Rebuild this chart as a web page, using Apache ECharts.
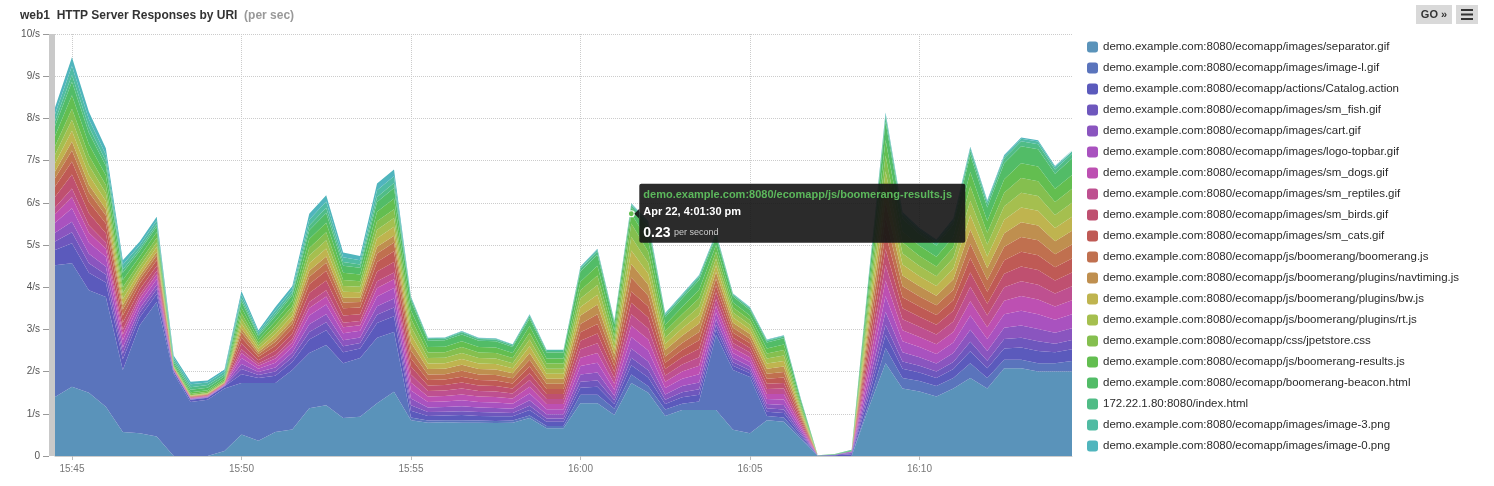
<!DOCTYPE html>
<html><head><meta charset="utf-8">
<script src="https://cdn.jsdelivr.net/npm/echarts@6/dist/echarts.min.js"></script>
<style>html,body{margin:0;padding:0;background:#fff;}#c{width:1494px;height:486px;}</style>
</head><body><div id="c"></div>
<script>
const times = ["15:44:30","15:45:00","15:45:30","15:46:00","15:46:30","15:47:00","15:47:30","15:48:00","15:48:30","15:49:00",
"15:49:30","15:50:00","15:50:30","15:51:00","15:51:30","15:52:00","15:52:30","15:53:00","15:53:30","15:54:00",
"15:54:30","15:55:00","15:55:30","15:56:00","15:56:30","15:57:00","15:57:30","15:58:00","15:58:30","15:59:00",
"15:59:30","16:00:00","16:00:30","16:01:00","16:01:30","16:02:00","16:02:30","16:03:00","16:03:30","16:04:00",
"16:04:30","16:05:00","16:05:30","16:06:00","16:06:30","16:07:00","16:07:30","16:08:00","16:08:30","16:09:00",
"16:09:30","16:10:00","16:10:30","16:11:00","16:11:30","16:12:00","16:12:30","16:13:00","16:13:30","16:14:00",
"16:14:30"];

const seriesNames = [
"demo.example.com:8080/ecomapp/images/separator.gif",
"demo.example.com:8080/ecomapp/images/image-l.gif",
"demo.example.com:8080/ecomapp/actions/Catalog.action",
"demo.example.com:8080/ecomapp/images/sm_fish.gif",
"demo.example.com:8080/ecomapp/images/cart.gif",
"demo.example.com:8080/ecomapp/images/logo-topbar.gif",
"demo.example.com:8080/ecomapp/images/sm_dogs.gif",
"demo.example.com:8080/ecomapp/images/sm_reptiles.gif",
"demo.example.com:8080/ecomapp/images/sm_birds.gif",
"demo.example.com:8080/ecomapp/images/sm_cats.gif",
"demo.example.com:8080/ecomapp/js/boomerang/boomerang.js",
"demo.example.com:8080/ecomapp/js/boomerang/plugins/navtiming.js",
"demo.example.com:8080/ecomapp/js/boomerang/plugins/bw.js",
"demo.example.com:8080/ecomapp/js/boomerang/plugins/rt.js",
"demo.example.com:8080/ecomapp/css/jpetstore.css",
"demo.example.com:8080/ecomapp/js/boomerang-results.js",
"demo.example.com:8080/ecomapp/boomerang-beacon.html",
"172.22.1.80:8080/index.html",
"demo.example.com:8080/ecomapp/images/image-3.png",
"demo.example.com:8080/ecomapp/images/image-0.png"];

const colors = ["#5a93ba","#5a74bc","#5b5abc","#6e57bd","#8a55bf","#a952bf","#bd50b2","#be5090","#bf5070","#bf5a55",
"#c0704f","#bf8f4f","#bfb44f","#a5bf4f","#85bf4f","#63be50","#52bc67","#50bc86","#50bba3","#50b5bd"];

const separatorGif = [1.4,1.64,1.5,1.17,0.57,0.54,0.46,0,0,0,0.12,0.51,0.36,0.57,0.63,1.13,1.2,0.9,0.93,1.25,1.52,0.85,0.79,0.8,0.79,0.79,0.78,0.79,0.9,0.66,0.66,1.25,1.25,0.97,1.73,1.5,0.95,1.09,1.09,1.09,0.62,0.54,0.85,0.81,0.4,0,0,0,1.13,2.2,1.6,1.53,1.41,1.6,1.85,1.6,2.08,2.08,2.0,2.0,2.0];
const imageL = [3.12,2.93,2.43,2.6,1.47,2.56,3.19,1.96,1.28,1.33,1.48,1.22,1.37,1.16,1.41,1.31,1.43,1.3,1.39,1.55,1.42,0.06,0.05,0.05,0.06,0.05,0.05,0.05,0.06,0.05,0.05,0.2,0.2,0.15,0.2,0.15,0.15,0.15,0.2,1.78,1.42,1.33,0.1,0.1,0.05,0,0,0,0.1,0.36,0.25,0.25,0.25,0.25,0.35,0.25,0.2,0.2,0.2,0.2,0.25];
const catalogAction = [.36,.47,.41,.34,.25,.19,.19,.05,.05,.05,.05,.21,.12,.17,.19,.32,.35,.26,.23,.35,.37,.16,.11,.11,.12,.11,.11,.10,.13,.10,.10,.17,.19,.11,.22,.21,.13,.15,.16,.13,.10,.09,.10,.11,.05,.01,.02,.04,.17,.31,.22,.20,.19,.21,.28,.23,.27,.29,.29,.26,.28];
const smFish = [.20,.26,.23,.19,.14,.11,.11,.01,.01,.01,.01,.12,.07,.10,.11,.18,.19,.14,.13,.20,.21,.13,.09,.09,.09,.09,.09,.08,.10,.08,.08,.14,.15,.09,.18,.17,.10,.12,.13,.11,.08,.07,.08,.08,.04,0,.01,.03,.13,.24,.17,.16,.15,.17,.23,.18,.22,.23,.23,.20,.22];
const cartGif = [.21,.25,.22,.19,.14,.10,.11,.01,.01,.01,.01,.12,.07,.10,.11,.18,.19,.14,.13,.20,.21,.16,.11,.11,.12,.11,.11,.10,.13,.10,.10,.17,.19,.11,.22,.21,.13,.15,.16,.13,.10,.09,.10,.11,.05,0,0,.02,.17,.31,.22,.20,.19,.21,.28,.23,.27,.29,.29,.26,.28];
const logoTopbar = [.24,.32,.27,.23,.17,.13,.13,.01,.01,.01,.01,.14,.08,.11,.13,.21,.23,.17,.16,.23,.25,.19,.13,.13,.14,.13,.13,.12,.16,.12,.12,.20,.23,.14,.27,.26,.15,.17,.20,.16,.12,.11,.12,.13,.06,0,0,.02,.20,.37,.26,.24,.23,.25,.34,.28,.32,.35,.35,.31,.33];
const smDogs = [.20,.26,.23,.19,.14,.11,.11,.01,.01,.01,.01,.12,.07,.10,.11,.18,.19,.14,.13,.20,.21,.19,.13,.13,.14,.13,.13,.12,.16,.12,.12,.20,.23,.14,.27,.26,.15,.17,.20,.16,.12,.11,.12,.13,.06,0,0,0,.20,.37,.26,.24,.23,.25,.34,.28,.32,.35,.35,.31,.33];
const smReptiles = [.16,.21,.18,.15,.11,.08,.09,.01,.01,.01,.01,.09,.05,.08,.08,.14,.15,.11,.10,.16,.16,.19,.13,.13,.14,.13,.13,.12,.16,.12,.12,.20,.23,.14,.27,.26,.15,.17,.20,.16,.12,.11,.12,.13,.06,0,0,0,.20,.37,.26,.24,.23,.25,.34,.28,.32,.35,.35,.31,.33];
const smBirds = [.25,.33,.28,.22,.17,.13,.12,.01,.01,.01,.01,.14,.08,.11,.13,.21,.23,.17,.16,.23,.25,.19,.13,.13,.14,.13,.13,.12,.16,.12,.12,.20,.23,.14,.27,.26,.15,.17,.20,.16,.12,.11,.12,.13,.06,0,0,0,.20,.37,.26,.24,.23,.25,.34,.28,.32,.35,.35,.31,.33];
const smCats = [.24,.31,.27,.23,.17,.13,.13,.01,.01,.01,.01,.14,.08,.11,.13,.21,.23,.17,.16,.23,.25,.19,.13,.13,.14,.13,.13,.12,.16,.12,.12,.20,.23,.14,.27,.26,.15,.17,.20,.16,.12,.11,.12,.13,.06,0,0,0,.20,.37,.26,.24,.23,.25,.34,.28,.32,.35,.35,.31,.33];
const boomerangJs = [.20,.26,.23,.19,.14,.11,.11,.01,.01,.01,.01,.12,.07,.10,.11,.18,.19,.14,.13,.20,.21,.19,.13,.13,.14,.13,.13,.12,.16,.12,.12,.20,.23,.14,.33,.26,.15,.17,.20,.16,.12,.11,.12,.13,.06,0,0,0,.20,.37,.26,.24,.23,.25,.34,.28,.32,.35,.35,.31,.33];
const navtimingJs = [.16,.21,.18,.15,.11,.08,.09,.01,.01,.01,.01,.09,.05,.08,.08,.14,.15,.11,.10,.16,.16,.19,.13,.13,.14,.13,.13,.12,.16,.12,.12,.20,.23,.14,.32,.26,.15,.17,.20,.16,.12,.11,.12,.13,.06,0,0,0,.20,.37,.26,.24,.23,.25,.34,.28,.32,.35,.35,.31,.33];
const bwJs = [.20,.26,.23,.19,.14,.11,.11,.01,.01,.01,.01,.12,.07,.10,.11,.18,.19,.14,.13,.20,.21,.19,.13,.13,.14,.13,.13,.12,.16,.12,.12,.20,.23,.14,.32,.26,.15,.17,.20,.16,.12,.11,.12,.13,.06,0,0,0,.20,.37,.26,.24,.23,.25,.34,.28,.32,.35,.35,.31,.33];
const rtJs = [.20,.26,.23,.19,.14,.11,.11,.01,.01,.01,.01,.12,.07,.10,.11,.18,.19,.14,.13,.20,.21,.19,.13,.13,.14,.13,.13,.12,.16,.12,.12,.20,.23,.14,.32,.26,.15,.17,.20,.16,.12,.11,.12,.13,.06,0,0,0,.20,.37,.26,.24,.23,.25,.34,.28,.32,.35,.35,.31,.33];
const jpetstoreCss = [.20,.26,.23,.19,.14,.11,.11,.02,.03,.03,.03,.12,.07,.10,.11,.18,.19,.14,.13,.20,.21,.19,.13,.13,.14,.13,.13,.12,.16,.12,.12,.20,.23,.14,.32,.26,.15,.17,.20,.16,.12,.11,.12,.13,.06,0,0,0,.20,.37,.26,.24,.23,.25,.34,.28,.32,.35,.35,.31,.33];
const boomerangResults = [.24,.32,.27,.23,.17,.13,.13,.03,.04,.04,.04,.14,.08,.11,.13,.21,.23,.17,.16,.23,.25,.19,.13,.13,.14,.13,.13,.12,.16,.12,.12,.20,.23,.14,.23,.26,.15,.17,.20,.16,.12,.11,.12,.13,.06,0,0,0,.20,.37,.26,.24,.23,.25,.34,.28,.32,.35,.35,.31,.33];
const boomerangBeacon = [.24,.32,.27,.23,.17,.13,.13,.05,.06,.06,.06,.14,.08,.11,.13,.21,.23,.17,.16,.23,.25,.22,.15,.15,.16,.15,.15,.14,.18,.14,.14,.24,.26,.16,.15,.30,.18,.20,.23,.19,.14,.13,.14,.15,.07,.01,.01,.02,.23,.43,.30,.28,.27,.29,.40,.32,.38,.40,.41,.36,.39];
const indexHtml = [.12,.16,.14,.11,.08,.06,.06,.05,.06,.06,.05,.07,.04,.06,.06,.11,.12,.09,.08,.12,.12,.06,.04,.04,.05,.04,.04,.04,.05,.04,.04,.07,.08,.05,.05,.09,.05,.06,.07,.05,.04,.04,.04,.04,.02,0,.01,.02,.07,.12,.09,.08,.08,.08,.11,.09,.11,.12,.12,.10,.11];
const image3 = [.16,.21,.18,.15,.11,.08,.09,.06,.07,.06,.06,.09,.05,.08,.08,.14,.15,.11,.10,.16,.16,.03,.02,.02,.02,.02,.02,.02,.03,.02,.02,.03,.04,.02,.03,.04,.03,.03,.03,.03,.02,.02,.02,.02,.01,0,0,0,.03,.06,.04,.04,.04,.04,.06,.05,.05,.06,.06,.05,.06];
const image0 = [.16,.21,.18,.15,.11,.08,.09,.05,.06,.05,.05,.09,.05,.08,.08,.14,.15,.11,.10,.16,.16,.02,.01,.01,.01,.01,.01,.01,.02,.01,.01,.02,.02,.01,.02,.03,.02,.02,.02,.02,.01,.01,.01,.01,.01,0,0,0,.02,.04,.03,.02,.02,.03,.03,.03,.03,.03,.03,.03,.03];

const seriesData = [separatorGif, imageL, catalogAction, smFish, cartGif, logoTopbar, smDogs, smReptiles, smBirds, smCats,
  boomerangJs, navtimingJs, bwJs, rtJs, jpetstoreCss, boomerangResults, boomerangBeacon, indexHtml, image3, image0];

const yTickLabels = ["0","1/s","2/s","3/s","4/s","5/s","6/s","7/s","8/s","9/s","10/s"];
const tipSeriesIndex = 15;
const tipPointIndex = 34;
const tipDateText = "Apr 22, 4:01:30 pm";

const FONT = "'Liberation Sans', Arial, Helvetica, sans-serif";
const isMajor = (i) => { const t = times[i]; return t.endsWith(":00") && (+t.slice(3,5)) % 5 === 0; };

const chart = echarts.init(document.getElementById('c'), null, {renderer: 'canvas'});
const GRID = {left: 55, right: 422, top: 34, bottom: 30};

chart.setOption({
  animation: false,
  color: colors,
  textStyle: {fontFamily: FONT},
  title: {
    left: 20, top: 10, padding: 0,
    text: '{a|web1  HTTP Server Responses by URI}{b|  (per sec)}',
    textStyle: {rich: {
      a: {fontFamily: FONT, fontSize: 12, fontWeight: 'bold', color: '#333'},
      b: {fontFamily: FONT, fontSize: 12, color: '#999'}
    }}
  },
  legend: {
    orient: 'vertical', left: 1087, top: 41, padding: 0,
    itemWidth: 11, itemHeight: 11, itemGap: 9, icon: 'roundRect',
    textStyle: {fontFamily: FONT, fontSize: 11.5, color: '#2a2a2a', lineHeight: 12},
    data: seriesNames
  },
  grid: GRID,
  xAxis: {
    type: 'category', data: times, boundaryGap: false,
    axisLine: {lineStyle: {color: '#ccc'}},
    axisTick: {interval: (i) => isMajor(i), length: 4, lineStyle: {color: '#bbb'}},
    axisLabel: {interval: (i) => isMajor(i), formatter: (v) => v.slice(0,5), color: '#777', fontSize: 10, margin: 8, fontFamily: FONT},
    splitLine: {show: true, interval: (i) => isMajor(i), lineStyle: {type: 'dotted', color: '#ccc'}}
  },
  yAxis: {
    type: 'value', min: 0, max: 10, interval: 1, offset: 6,
    axisLine: {show: false},
    axisTick: {show: true, length: 6, lineStyle: {color: '#999'}},
    axisLabel: {formatter: (v) => yTickLabels[v], color: '#555', fontSize: 10, margin: 9, fontFamily: FONT},
    splitLine: {show: true, lineStyle: {type: 'dotted', color: '#ccc'}}
  },
  series: seriesNames.map((n, k) => ({
    name: n, type: 'line', stack: 'total', data: seriesData[k],
    symbol: 'none', showSymbol: false, lineStyle: {width: 0},
    areaStyle: {opacity: 1, color: colors[k]}, itemStyle: {color: colors[k]},
    emphasis: {disabled: true}, silent: true
  }))
});

// annotation: static hover tooltip, positioned from data via the axis scales
let cum = 0;
for (let k = 0; k <= tipSeriesIndex; k++) cum += seriesData[k][tipPointIndex];
const p = chart.convertToPixel({gridIndex: 0}, [tipPointIndex, cum]);
const px = p[0], py = p[1];
const tipVal = seriesData[tipSeriesIndex][tipPointIndex].toFixed(2);
const bottomPx = chart.convertToPixel({gridIndex: 0}, [0, 0])[1];
const topPx = chart.convertToPixel({gridIndex: 0}, [0, 10])[1];

chart.setOption({
  graphic: [
    {type: 'rect', shape: {x: GRID.left - 6, y: topPx, width: 6, height: bottomPx - topPx}, style: {fill: '#c9c9c9'}, z: 5},
    {type: 'rect', shape: {x: 1416, y: 5, width: 36, height: 19}, style: {fill: '#d9d9d9'}},
    {type: 'text', x: 1434, y: 14.5, style: {text: 'GO »', fill: '#333', font: 'bold 11px ' + FONT, align: 'center', verticalAlign: 'middle'}},
    {type: 'rect', shape: {x: 1456, y: 5, width: 22, height: 19}, style: {fill: '#d9d9d9'}},
    {type: 'rect', shape: {x: 1461, y: 9, width: 12, height: 2}, style: {fill: '#333'}},
    {type: 'rect', shape: {x: 1461, y: 13.5, width: 12, height: 2}, style: {fill: '#333'}},
    {type: 'rect', shape: {x: 1461, y: 18, width: 12, height: 2}, style: {fill: '#333'}},
    {type: 'circle', shape: {cx: px, cy: py, r: 3}, style: {fill: colors[tipSeriesIndex], stroke: '#fff', lineWidth: 1.2}, z: 20},
    {type: 'polygon', shape: {points: [[px + 3, py], [px + 8, py - 5], [px + 8, py + 5]]}, style: {fill: 'rgba(20,20,20,0.9)'}, z: 20},
    {type: 'rect', shape: {x: px + 8, y: py - 30, width: 326, height: 59, r: 2}, style: {fill: 'rgba(20,20,20,0.9)'}, z: 20},
    {type: 'text', x: px + 12, y: py - 19, z: 21, style: {text: seriesNames[tipSeriesIndex], fill: '#5cb85c', font: 'bold 11px ' + FONT, verticalAlign: 'middle'}},
    {type: 'text', x: px + 12, y: py - 2, z: 21, style: {text: tipDateText, fill: '#fff', font: 'bold 11px ' + FONT, verticalAlign: 'middle'}},
    {type: 'text', x: px + 12, y: py + 19, z: 21, style: {
      text: '{v|' + tipVal + '} {u|per second}', verticalAlign: 'middle',
      rich: {v: {fontSize: 14, fontWeight: 'bold', fill: '#fff', fontFamily: FONT}, u: {fontSize: 9, fill: '#ccc', fontFamily: FONT}}
    }}
  ]
});
</script></body></html>
